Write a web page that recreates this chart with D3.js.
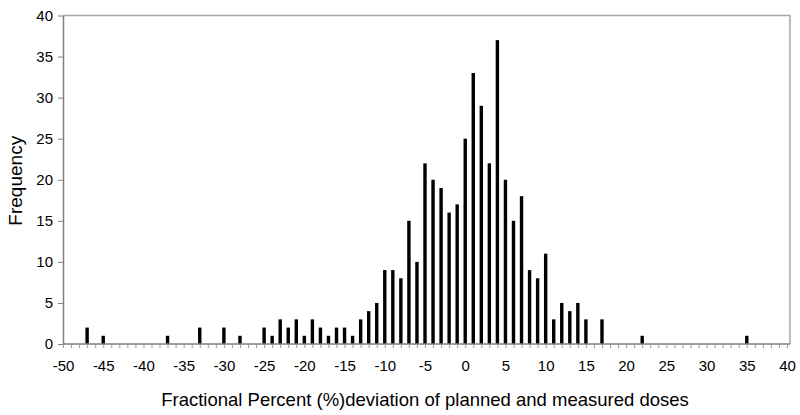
<!DOCTYPE html>
<html>
<head>
<meta charset="utf-8">
<script src="https://cdn.jsdelivr.net/npm/d3@7"></script>
<style>
  body { margin: 0; background: #fff; }
  text { font-family: "Liberation Sans", Arial, sans-serif; fill: #000; }
</style>
</head>
<body>
<div id="chart"></div>
<script>
const width = 800;
const height = 415;

// deviation (%) and how many times it occurred
const deviations = [-47, -45, -37, -33, -30, -28, -25, -24, -23, -22, -21, -20, -19, -18, -17, -16, -15, -14,
  -13, -12, -11, -10, -9, -8, -7, -6, -5, -4, -3, -2, -1, 0, 1, 2, 3, 4, 5, 6, 7, 8, 9, 10,
  11, 12, 13, 14, 15, 17, 22, 35];
const frequencies = [2, 1, 1, 2, 2, 1, 2, 1, 3, 2, 3, 1, 3, 2, 1, 2, 2, 1,
  3, 4, 5, 9, 9, 8, 15, 10, 22, 20, 19, 16, 17, 25, 33, 29, 22, 37, 20, 15, 18, 9, 8, 11,
  3, 5, 4, 5, 3, 3, 1, 1];
const xTicks = d3.range(-50, 41, 5);
const yTicks = d3.range(0, 41, 5);

const plotLeft = 63, plotRight = 787, frameRight = 790;
const plotTop = 15.5, plotBottom = 344;
const barWidth = 3.4;

const svg = d3.select("#chart").append("svg")
  .attr("width", width)
  .attr("height", height);

const x = d3.scaleLinear().domain([-50, 40]).range([plotLeft, plotRight]);
const y = d3.scaleLinear().domain([0, 40]).range([plotBottom, plotTop]);

// plain hyphen for negatives, like the original
const fmt = (d) => String(d);

// frame: top and right borders
svg.append("path")
  .attr("d", `M${plotLeft},${plotTop}H${frameRight}V${plotBottom}`)
  .attr("fill", "none")
  .attr("stroke", "#a6a6a6")
  .attr("stroke-width", 1.5);

// bars
svg.selectAll("rect.bar").data(deviations).enter().append("rect")
  .attr("class", "bar")
  .attr("x", (d) => x(d) - barWidth / 2)
  .attr("width", barWidth)
  .attr("y", (d, i) => y(frequencies[i]))
  .attr("height", (d, i) => plotBottom - y(frequencies[i]))
  .style("fill", "#000");

// y axis
const yAxis = svg.append("g")
  .attr("transform", `translate(${plotLeft},0)`)
  .call(d3.axisLeft(y).tickValues(yTicks).tickFormat(fmt).tickSize(5).tickPadding(5).tickSizeOuter(0));
yAxis.select(".domain").attr("stroke", "#808080").attr("stroke-width", 1.5);
yAxis.selectAll(".tick line").attr("stroke", "#808080");
yAxis.selectAll(".tick text").style("font-size", "15px");

// x axis: minor ticks every unit, labels every 5
const xAxis = svg.append("g")
  .attr("transform", `translate(0,${plotBottom})`)
  .call(d3.axisBottom(x).tickValues(d3.range(-50, 41, 1)).tickSize(4).tickSizeOuter(0).tickFormat(""));
xAxis.select(".domain").attr("d", `M${plotLeft},0H${frameRight}`).attr("stroke", "#808080").attr("stroke-width", 1.5);
xAxis.selectAll(".tick line").attr("stroke", "#999");

svg.append("g")
  .attr("transform", `translate(0,${plotBottom})`)
  .call(d3.axisBottom(x).tickValues(xTicks).tickFormat(fmt).tickSize(0).tickPadding(16))
  .call((g) => g.select(".domain").remove())
  .selectAll("text").style("font-size", "15px");

// titles
svg.append("text")
  .attr("x", (plotLeft + plotRight) / 2)
  .attr("y", 406)
  .attr("text-anchor", "middle")
  .style("font-size", "18.5px")
  .text("Fractional Percent (%)deviation of planned and measured doses");

svg.append("text")
  .attr("transform", `translate(22,${(plotTop + plotBottom) / 2 + 1}) rotate(-90)`)
  .attr("text-anchor", "middle")
  .style("font-size", "19px")
  .text("Frequency");
</script>
</body>
</html>
